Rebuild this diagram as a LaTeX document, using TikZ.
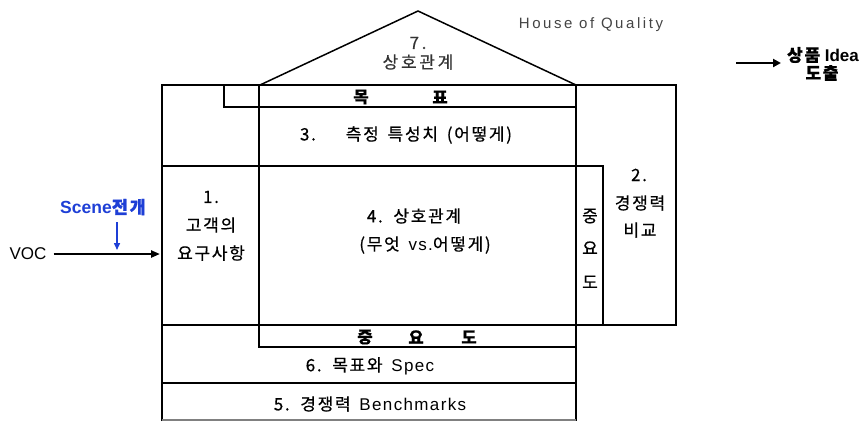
\documentclass[tikz,border=0pt]{standalone}
\usepackage{fontspec}
\setmainfont{Liberation Sans}
\newfontfamily\kr[LetterSpace=10,WordSpace=1.6,RawFeature={embolden=0.6}]{Noto Sans CJK KR}
\newfontfamily\la[LetterSpace=8]{Liberation Sans}
\newfontfamily\lab[LetterSpace=17]{Liberation Sans}
\usetikzlibrary{arrows.meta}
\definecolor{dgray}{HTML}{333333}
\definecolor{mgray}{HTML}{444444}
\definecolor{sceneblue}{HTML}{1E3FD6}
\begin{document}
\begin{tikzpicture}[x=1pt,y=-1pt,
  ln/.style={line width=1.8pt},
  txt/.style={font=\kr\fontsize{17}{19}\selectfont, inner sep=0pt},
  btxt/.style={font=\kr\bfseries\fontsize{16.5}{18}\selectfont, inner sep=0pt},
  arr/.style={line width=2.2pt, -{Triangle[length=9pt,width=7pt]}}]
\useasboundingbox (0,0) rectangle (866,421);
% house outline
\draw[ln] (162,421) -- (162,85) -- (676,85) -- (676,325) -- (162,325);
\draw[ln] (224,85) -- (224,107) -- (576,107);
\draw[ln] (259,85) -- (259,347) -- (576,347);
\draw[ln] (162,166) -- (603,166) -- (603,325);
\draw[ln] (576,85) -- (576,421);
\draw[ln] (162,383) -- (576,383);
\draw[line width=1.2pt, gray] (162,420) -- (576,420);
\draw[line width=1.5pt, line join=miter] (260,85) -- (418,11) -- (576,85);
% texts
\node[txt, text=mgray, font=\lab\fontsize{15}{17}\selectfont] (hoq) at (591,25) {House of Quality};
\node[txt, text=dgray, font=\kr\fontsize{17}{19}\addfontfeatures{LetterSpace=16}\selectfont] (t7a) at (418,43) {7.};
\node[txt, text=dgray, font=\kr\fontsize{17}{19}\addfontfeatures{LetterSpace=16}\selectfont] (t7b) at (418,62) {상호관계};
\node[btxt] (mok) at (361,97) {목};
\node[btxt] (pyo) at (440,97) {표};
\node[txt] (t3) at (406,135) {3.\hspace{30pt}측정 특성치 (어떻게)};
\node[txt] (t1a) at (211,197) {1.};
\node[txt] (t1b) at (211,225) {고객의};
\node[txt] (t1c) at (211,253) {요구사항};
\node[txt] (t4a) at (414,216) {4. 상호관계};
\node[txt] (t4b) at (425,245) {(무엇 {\la vs.}어떻게)};
\node[txt] (j1) at (590,216) {중};
\node[txt] (j2) at (590,248) {요};
\node[txt] (j3) at (590,282) {도};
\node[txt] (t2a) at (639,175) {2.};
\node[txt] (t2b) at (640,203) {경쟁력};
\node[txt] (t2c) at (640,230) {비교};
\node[btxt] (r1) at (365,337) {중};
\node[btxt] (r2) at (416,337) {요};
\node[btxt] (r3) at (469,337) {도};
\node[txt] (t6) at (370,366) {6. 목표와 {\la Spec}};
\node[txt] (t5) at (370,404) {5. 경쟁력 {\la Benchmarks}};
% left side
\node[inner sep=0pt, font=\fontsize{17}{19}\selectfont] (voc) at (28,254) {VOC};
\node[inner sep=0pt, text=sceneblue, font=\bfseries\fontsize{17.5}{19}\selectfont] (scene) at (103,207) {Scene{\kr\bfseries 전개}};
\coordinate (vocend) at (160,254);
\coordinate (sc1) at (117,222);
\coordinate (sc2) at (117,250);
\draw[arr] ([xshift=7pt]voc.east) -- (vocend);
\draw[sceneblue, line width=1.5pt, -{Triangle[length=7pt,width=6pt]}] (sc1) -- (sc2);
% right side
\node[inner sep=0pt, font=\bfseries\fontsize{17}{19}\selectfont] (idea) at (823,55) {{\kr\bfseries 상품} Idea};
\node[inner sep=0pt, font=\kr\bfseries\fontsize{17}{19}\selectfont] (dochul) at (822,73) {도출};
\coordinate (ia) at (736,63);
\coordinate (ib) at (781,63);
\draw[line width=2.8pt, -{Triangle[length=8pt,width=8pt]}] (ia) -- (ib);
\end{tikzpicture}
\end{document}
